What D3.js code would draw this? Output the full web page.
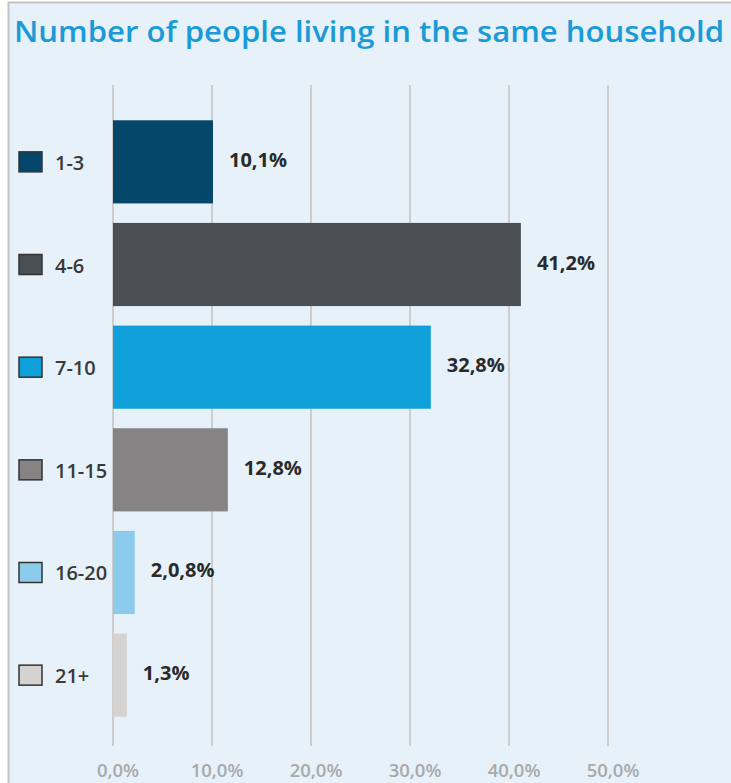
<!DOCTYPE html>
<html><head><meta charset="utf-8">
<script src="https://cdn.jsdelivr.net/npm/d3@7"></script>
<style>body{margin:0;background:#fff;}svg{display:block;}</style>
</head><body>
<script>
const categories = ["1-3","4-6","7-10","11-15","16-20","21+"];
const values = [10.1, 41.2, 32.1, 11.6, 2.2, 1.4];
const valueLabels = ["10,1%","41,2%","32,8%","12,8%","2,0,8%","1,3%"];
const colors = ["#05476b","#4a4f53","#0f9fd9","#858383","#8ccbeb","#d4d3d2"];
const ticks = [0,10,20,30,40,50];
const tickLabels = ["0,0%","10,0%","20,0%","30,0%","40,0%","50,0%"];

const W=731,H=783;
const svg=d3.select("body").append("svg").attr("width",W).attr("height",H);
svg.append("rect").attr("x",8.5).attr("y",2.5).attr("width",W).attr("height",H)
  .attr("fill","#e6f1fa").attr("stroke","#c4c4c4").attr("stroke-width",2);

svg.append("text").attr("x",14).attr("y",42)
  .attr("font-family","Open Sans").attr("font-weight",600).attr("font-size",29)
  .attr("fill","#1a9ad6").attr("textLength",710).attr("lengthAdjust","spacingAndGlyphs")
  .text("Number of people living in the same household");

const x=d3.scaleLinear().domain([0,50]).range([113,608]);
const y=d3.scaleBand().domain(categories).range([110,727]).paddingInner(0.19).paddingOuter(0.1);

svg.append("g").selectAll("line").data(ticks).join("line")
  .attr("x1",d=>x(d)).attr("x2",d=>x(d)).attr("y1",85).attr("y2",746)
  .attr("stroke","#cdcdcd").attr("stroke-width",2);

svg.append("g").selectAll("text").data(ticks).join("text")
  .attr("x",d=>x(d)+5).attr("y",777).attr("text-anchor","middle")
  .attr("font-family","Open Sans").attr("font-weight",600).attr("font-size",18.5)
  .attr("fill","#a9a9a9").text((d,i)=>tickLabels[i]);

const g=svg.append("g");
g.selectAll("rect.bar").data(categories).join("rect").attr("class","bar")
  .attr("x",x(0)).attr("y",d=>y(d)).attr("height",y.bandwidth())
  .attr("width",(d,i)=>x(values[i])-x(0)).attr("fill",(d,i)=>colors[i]);

g.selectAll("text.val").data(categories).join("text").attr("class","val")
  .attr("x",(d,i)=>x(values[i])+16).attr("y",d=>y(d)+y.bandwidth()/2+5)
  .attr("font-family","Open Sans").attr("font-weight",700).attr("font-size",20)
  .attr("fill","#2a2a2a").text((d,i)=>valueLabels[i]);

g.selectAll("rect.sw").data(categories).join("rect").attr("class","sw")
  .attr("x",19).attr("y",d=>y(d)+y.bandwidth()/2-10).attr("width",23).attr("height",20)
  .attr("fill",(d,i)=>colors[i]).attr("stroke","#333").attr("stroke-width",1.5);

g.selectAll("text.cat").data(categories).join("text").attr("class","cat")
  .attr("x",55).attr("y",d=>y(d)+y.bandwidth()/2+8)
  .attr("font-family","Open Sans").attr("font-weight",600).attr("font-size",20)
  .attr("fill","#3a3a3a").text(d=>d);
</script>
</body></html>
